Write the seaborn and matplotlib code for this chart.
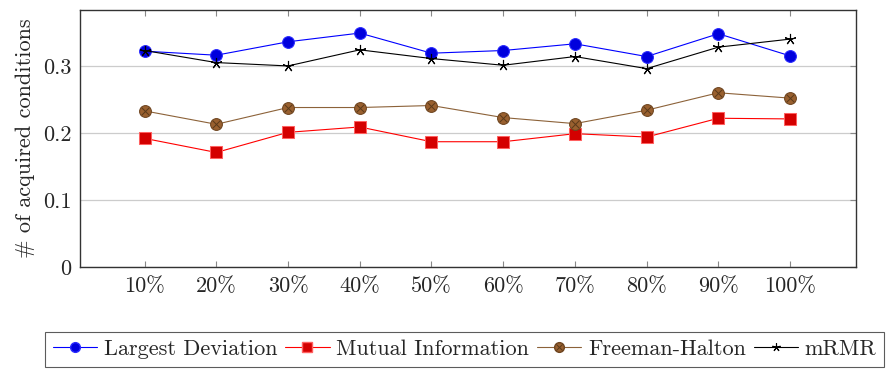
import matplotlib
matplotlib.use("Agg")
import matplotlib.pyplot as plt
from matplotlib.lines import Line2D
from matplotlib.legend_handler import HandlerTuple
import seaborn as sns
import pandas as pd

# Fraction of data used
fractions = ["10%", "20%", "30%", "40%", "50%", "60%", "70%", "80%", "90%", "100%"]

largest_deviation = [0.322, 0.316, 0.336, 0.349, 0.319, 0.323, 0.333, 0.314, 0.348, 0.315]
mutual_information = [0.192, 0.171, 0.201, 0.209, 0.187, 0.187, 0.199, 0.194, 0.222, 0.221]
freeman_halton = [0.233, 0.213, 0.238, 0.238, 0.241, 0.223, 0.214, 0.234, 0.260, 0.252]
mrmr = [0.323, 0.305, 0.300, 0.324, 0.311, 0.301, 0.314, 0.296, 0.328, 0.340]

y_ticks = [0, 0.1, 0.2, 0.3]
y_tick_labels = ["0", "0.1", "0.2", "0.3"]

sns.set_theme(style="white")
plt.rcParams["font.family"] = ["cmr10", "DejaVu Serif"]
plt.rcParams["axes.formatter.use_mathtext"] = True
plt.rcParams["mathtext.fontset"] = "cm"

FS = 16

df = pd.DataFrame({
    "fraction": fractions * 4,
    "pos": list(range(len(fractions))) * 4,
    "value": largest_deviation + mutual_information + freeman_halton + mrmr,
    "method": (["Largest Deviation"] * 10 + ["Mutual Information"] * 10
               + ["Freeman-Halton"] * 10 + ["mRMR"] * 10),
})

fig = plt.figure(figsize=(8.89, 3.69), dpi=100)
ax = fig.add_axes([0.09, 0.276, 0.873, 0.698])

brown = "#99602f"
styles = {
    "Largest Deviation": dict(color="#0000ff", marker="o", markersize=8.5,
                              markerfacecolor="#0000dd", markeredgecolor="#2a2aff", zorder=4),
    "Mutual Information": dict(color="#ff0000", marker="s", markersize=8.5,
                               markerfacecolor="#d40000", markeredgecolor="#ff6060", zorder=3),
    "Freeman-Halton": dict(color="#8c6239", marker="o", markersize=8.5,
                           markerfacecolor=brown, markeredgecolor="#6e4520", zorder=3),
    "mRMR": dict(color="black", marker=(5, 2, 0), markersize=8,
                 markeredgecolor="black", markeredgewidth=0.8, zorder=5),
}
legend_marker_size = {"Largest Deviation": 7, "Mutual Information": 7,
                      "Freeman-Halton": 7, "mRMR": 6}

handles = []
for name, st in styles.items():
    sub = df[df["method"] == name]
    sns.lineplot(data=sub, x="pos", y="value", ax=ax, linewidth=0.8,
                 estimator=None, legend=False, **st)
    hst = {k: v for k, v in st.items() if k != "zorder"}
    hst["markersize"] = legend_marker_size[name]
    h = Line2D([], [], linewidth=0.8, **hst)
    if name == "Freeman-Halton":
        sns.scatterplot(data=sub, x="pos", y="value", ax=ax, marker="x", s=30,
                        color="#5a3a1a", linewidth=0.7, zorder=4, legend=False)
        hx = Line2D([], [], linestyle="none", marker="x", markersize=4,
                    color="#5a3a1a", markeredgewidth=0.7)
        h = (h, hx)
    handles.append(h)

ax.set_xlim(-0.9, 9.92)
ax.set_ylim(0, 0.384)
ax.set_xticks(range(len(fractions)))
ax.set_xticklabels(fractions)
ax.set_yticks(y_ticks)
ax.set_yticklabels(y_tick_labels)
ax.set_xlabel("")
ax.set_ylabel("# of acquired conditions", fontsize=FS, labelpad=6)

ax.grid(axis="y", color="#cccccc", linewidth=0.9)
ax.tick_params(axis="both", which="both", direction="in", length=4, width=0.8,
               color="#888888", labelsize=FS, top=True, right=True,
               bottom=True, left=True, pad=7)
ax.tick_params(axis="y", left=False, pad=6)
for sp in ax.spines.values():
    sp.set_color("#333333")
    sp.set_linewidth(1.0)
    sp.set_visible(True)

leg = fig.legend(handles, list(styles.keys()), ncol=4, loc="upper left",
                 bbox_to_anchor=(0.0506, 0.101), bbox_transform=fig.transFigure,
                 fontsize=FS, frameon=True, fancybox=False, edgecolor="#333333",
                 handlelength=2.0, handletextpad=0.3, columnspacing=0.35,
                 borderpad=0.35, borderaxespad=0,
                 handler_map={tuple: HandlerTuple(ndivide=1)})
leg.get_frame().set_linewidth(0.8)

fig.savefig("out.png", dpi=100)
